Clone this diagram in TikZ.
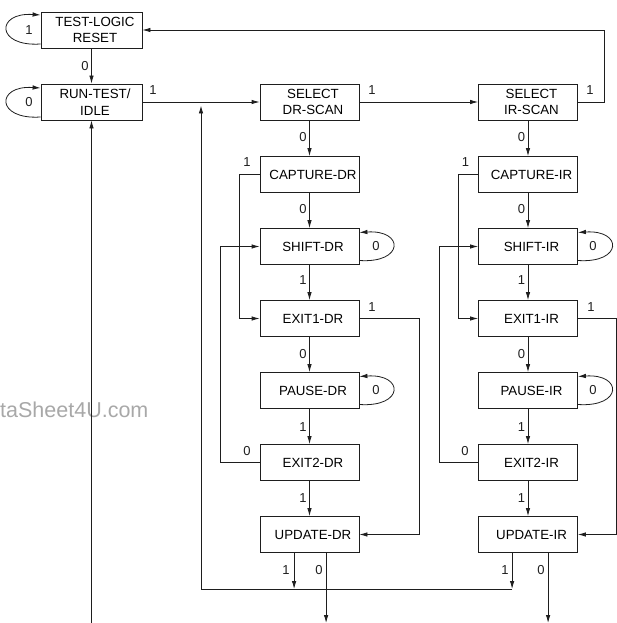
\documentclass[tikz,border=0pt]{standalone}
\usepackage{fontspec}
\setmainfont{Liberation Sans}
\usetikzlibrary{arrows.meta,calc}
\definecolor{wmgray}{RGB}{168,168,168}
\definecolor{ink}{RGB}{30,30,30}
\newcommand\tsh{\hspace*{7pt}}
\begin{document}
\begin{tikzpicture}[x=1pt,y=-1pt,
  state/.style={draw=ink, line width=0.8pt, minimum width=99pt, minimum height=36pt,
    inner sep=0pt, align=center, font=\fontsize{13.3}{16.5}\selectfont},
  lbl/.style={font=\fontsize{13}{15}\selectfont, inner sep=0pt, text=ink},
  conn/.style={draw=ink, line width=0.8pt, -{Latex[length=8pt,width=4.5pt]}},
  wire/.style={draw=ink, line width=0.8pt}
]
\useasboundingbox (0,0) rectangle (617,623);
\node[anchor=base west, inner sep=0pt, text=wmgray, font=\fontsize{21.5}{24}\selectfont] (wm) at (0,417) {taSheet4U.com};

% states
\node[state, minimum width=101pt] (tlr) at (91.5,30) {\tsh TEST-LOGIC\\\tsh RESET};
\node[state, minimum width=101pt] (rti) at (91.5,102) {\tsh RUN-TEST/\\\tsh IDLE};
\node[state] (sdr) at (309.5,102) {\tsh SELECT\\\tsh DR-SCAN};
\node[state] (sir) at (528,102) {\tsh SELECT\\\tsh IR-SCAN};
\node[state] (cdr) at (309.5,174.5) {\tsh CAPTURE-DR};
\node[state] (shdr) at (309.5,246.5) {\tsh SHIFT-DR};
\node[state] (e1dr) at (309.5,318.5) {\tsh EXIT1-DR};
\node[state] (pdr) at (309.5,390.5) {\tsh PAUSE-DR};
\node[state] (e2dr) at (309.5,462.5) {\tsh EXIT2-DR};
\node[state] (udr) at (309.5,534.5) {\tsh UPDATE-DR};
\node[state] (cir) at (528,174.5) {\tsh CAPTURE-IR};
\node[state] (shir) at (528,246.5) {\tsh SHIFT-IR};
\node[state] (e1ir) at (528,318.5) {\tsh EXIT1-IR};
\node[state] (pir) at (528,390.5) {\tsh PAUSE-IR};
\node[state] (e2ir) at (528,462.5) {\tsh EXIT2-IR};
\node[state] (uir) at (528,534.5) {\tsh UPDATE-IR};

\coordinate (bus) at (201,589);
\coordinate (bustop) at (201,105.5);
\coordinate (bot) at (0,623);

% left part
\draw[conn] (tlr) -- (rti);
\draw[conn] ($(tlr.west)+(0,14)$) .. controls ($(tlr.west)+(-45,17)$) and ($(tlr.west)+(-45,-18)$) .. ($(tlr.west)+(0,-15)$);
\draw[conn] ($(rti.west)+(0,15)$) .. controls ($(rti.west)+(-45,18)$) and ($(rti.west)+(-45,-17)$) .. ($(rti.west)+(0,-14)$);
\draw[conn] (rti.east) -- (sdr.west);
\draw[conn] (sdr.east) -- (sir.west);
\draw[conn] (sir.east) -- ++(26,0) |- (tlr.east);
\draw[conn] (rti.south |- bot) -- (rti.south);

% vertical chains
\foreach \a/\b in {sdr/cdr,cdr/shdr,shdr/e1dr,e1dr/pdr,pdr/e2dr,e2dr/udr,
                   sir/cir,cir/shir,shir/e1ir,e1ir/pir,pir/e2ir,e2ir/uir}
  {\draw[conn] (\a) -- (\b);}

% self loops right
\foreach \n in {shdr,pdr,shir,pir}
  {\draw[conn] ($(\n.east)+(0,14)$) .. controls ($(\n.east)+(45,17)$) and ($(\n.east)+(45,-17)$) .. ($(\n.east)+(0,-14)$);}

% DR side connectors
\draw[conn] (cdr.west) -- ++(-20,0) |- (e1dr.west);
\draw[conn] (e2dr.west) -- ++(-39,0) |- (shdr.west);
\draw[conn] (e1dr.east) -- ++(60,0) |- (udr.east);
% IR side connectors
\draw[conn] (cir.west) -- ++(-20,0) |- (e1ir.west);
\draw[conn] (e2ir.west) -- ++(-39,0) |- (shir.west);
\draw[conn] (e1ir.east) -- ++(38,0) |- (uir.east);

% update outputs
\coordinate (d1) at ($(udr.south west)+(34.5,0)$);
\coordinate (d0) at ($(udr.south west)+(66.5,0)$);
\coordinate (i1) at ($(uir.south west)+(34,0)$);
\coordinate (i0) at ($(uir.south west)+(70,0)$);
\draw[conn] (d1) -- (d1 |- bus);
\draw[conn] (d0) -- (d0 |- bot);
\draw[conn] (i1) -- (i1 |- bus);
\draw[conn] (i0) -- (i0 |- bot);
\draw[conn] (i1 |- bus) -- (bus) -- (bustop);

% labels
\foreach \x/\y/\t [count=\i] in {85/66/0, 29/30/1, 29/102/0, 153/90/1, 372/90/1, 590/90/1,
   303/137/0, 247/162/1, 303/209/0, 376/246/0, 303/280/1, 372/307/1, 303/354/0, 376/390/0,
   303/427/1, 247/451/0, 303/498/1, 286/570/1, 319/570/0,
   521.5/137/0, 465.5/162/1, 521.5/209/0, 593/246/0, 521.5/280/1, 591/307/1, 521.5/354/0,
   593/390/0, 521.5/427/1, 465/451/0, 521.5/498/1, 505/570/1, 541/570/0}
  {\node[lbl] (lab\i) at (\x,\y) {\t};}
\end{tikzpicture}
\end{document}
